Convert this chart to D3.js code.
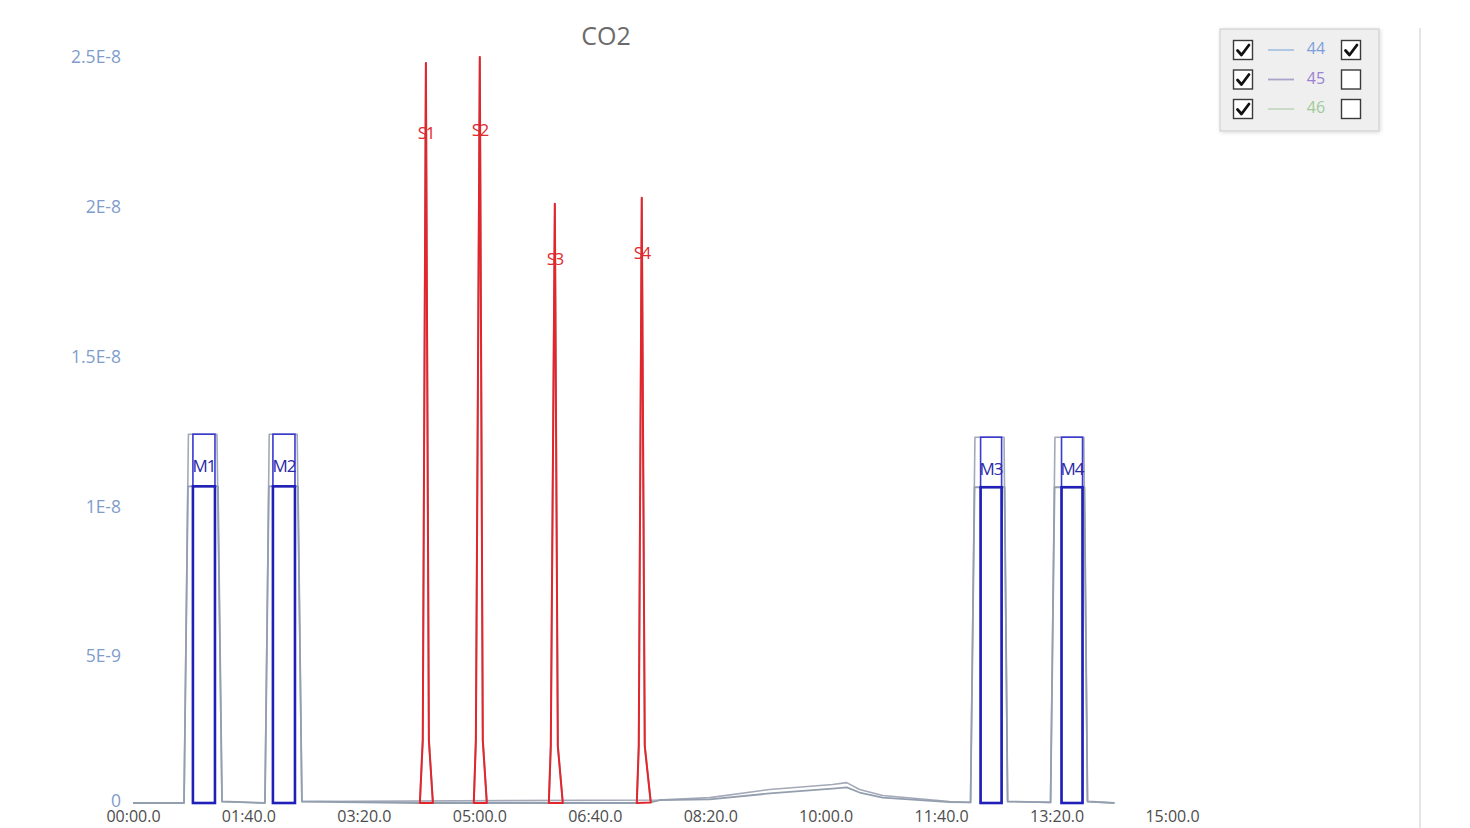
<!DOCTYPE html>
<html>
<head>
<meta charset="utf-8">
<script src="https://cdn.jsdelivr.net/npm/d3@7"></script>
<style>
  html, body { margin: 0; padding: 0; background: #ffffff; }
  svg { display: block; font-family: "Open Sans", "Noto Sans", sans-serif; }
</style>
</head>
<body>
<svg id="chart" width="1470" height="828"></svg>
<script>
// ---------------- DATA ----------------
const chartTitle = "CO2";
const xTickValues = [0, 100, 200, 300, 400, 500, 600, 700, 800, 900];
const xTickLabels = ["00:00.0","01:40.0","03:20.0","05:00.0","06:40.0","08:20.0","10:00.0","11:40.0","13:20.0","15:00.0"];
const yTickValues = [0, 5e-9, 1e-8, 1.5e-8, 2e-8, 2.5e-8];
const yTickLabels = ["0","5E-9","1E-8","1.5E-8","2E-8","2.5E-8"];

// mass 44 trace (seconds, amps)
const times44 = [0, 44.2, 47.6, 73.6, 77.1, 114.3, 117.7, 142.9, 146.3,
  248.5, 251.0, 253.7, 256.3, 259.8,
  295.2, 297.0, 300.4, 303.0, 306.5,
  360.2, 361.9, 365.4, 368.0, 372.3,
  436.4, 438.1, 440.7, 443.3, 448.5,
  456.3, 499.6, 551.5, 606.0, 618.2, 629.4, 649.4, 707.4, 725.5,
  729.0, 755.0, 757.6, 794.8, 798.3, 824.2, 826.8, 850.2];
const values44 = [0.1e-9, 0.1e-9, 10.67e-9, 10.67e-9, 0.15e-9, 0.1e-9, 10.67e-9, 10.67e-9, 0.15e-9,
  0.1e-9, 2.2e-9, 24.8e-9, 2.2e-9, 0.1e-9,
  0.1e-9, 2.2e-9, 25.0e-9, 2.2e-9, 0.1e-9,
  0.1e-9, 2.0e-9, 20.1e-9, 2.0e-9, 0.1e-9,
  0.1e-9, 2.0e-9, 20.3e-9, 2.0e-9, 0.12e-9,
  0.2e-9, 0.22e-9, 0.42e-9, 0.58e-9, 0.62e-9, 0.45e-9, 0.28e-9, 0.13e-9, 0.12e-9,
  10.64e-9, 10.64e-9, 0.15e-9, 0.12e-9, 10.64e-9, 10.64e-9, 0.15e-9, 0.1e-9];

// mass 45 trace
const times45 = [0, 44.2, 48.0, 72.7, 77.1, 114.3, 118.0, 142.2, 146.3,
  456.3, 499.6, 551.5, 606.0, 618.2, 629.4, 649.4, 707.4, 725.5,
  729.3, 754.5, 757.6, 794.8, 798.6, 823.6, 826.8, 850.2];
const values45 = [0.1e-9, 0.1e-9, 12.41e-9, 12.41e-9, 0.15e-9, 0.1e-9, 12.41e-9, 12.41e-9, 0.15e-9,
  0.2e-9, 0.28e-9, 0.55e-9, 0.72e-9, 0.78e-9, 0.55e-9, 0.35e-9, 0.15e-9, 0.12e-9,
  12.31e-9, 12.31e-9, 0.15e-9, 0.12e-9, 12.31e-9, 12.31e-9, 0.15e-9, 0.1e-9];

// sample peaks (integration windows on mass 44)
const sNames = ["S1", "S2", "S3", "S4"];
const sStart = [248.5, 295.2, 360.2, 436.4];
const sEnd = [259.8, 306.5, 372.3, 448.5];
const sLabelValue = [22.4e-9, 22.5e-9, 18.2e-9, 18.4e-9];

// monitoring gas windows
const mNames = ["M1", "M2", "M3", "M4"];
const mStart = [51.9, 121.2, 734.2, 804.3];
const mEnd = [71.0, 140.3, 752.4, 822.5];
const mLow = [10.67e-9, 10.67e-9, 10.64e-9, 10.64e-9];
const mHigh = [12.41e-9, 12.41e-9, 12.31e-9, 12.31e-9];
const mLabelValue = [11.3e-9, 11.3e-9, 11.2e-9, 11.2e-9];

// legend
const legendMasses = ["44", "45", "46"];
const legendLeftChecked = [true, true, true];
const legendRightChecked = [true, false, false];

// ---------------- DRAW ----------------
const svg = d3.select("#chart");
const x = d3.scaleLinear().domain([0, 900]).range([133, 1172]);
const y = d3.scaleLinear().domain([0, 2.5e-8]).range([806, 57]);

// right panel divider
svg.append("line").attr("x1", 1420).attr("x2", 1420).attr("y1", 28).attr("y2", 828)
  .attr("stroke", "#e6e6e6").attr("stroke-width", 2);

// title
svg.append("text").attr("x", 606).attr("y", 38).attr("text-anchor", "middle")
  .attr("dominant-baseline", "middle").attr("font-size", 25).attr("fill", "#6b6b6b").text(chartTitle);

// y axis labels
const yAxis = d3.axisLeft(y).tickValues(yTickValues).tickFormat((d, i) => yTickLabels[i]).tickSize(0).tickPadding(0);
const gy = svg.append("g").attr("transform", "translate(121,0)").call(yAxis);
gy.select(".domain").remove();
gy.selectAll("text").attr("font-size", 17.5).attr("fill", "#7f9dcb").attr("font-family", "'Open Sans', sans-serif");
gy.selectAll(".tick").filter(d => d === 0).select("text").attr("dy", "0.05em");

// x axis labels
const xAxis = d3.axisBottom(x).tickValues(xTickValues).tickFormat((d, i) => xTickLabels[i]).tickSize(0).tickPadding(0);
const gx = svg.append("g").attr("transform", "translate(0,811)").call(xAxis);
gx.select(".domain").remove();
gx.selectAll("text").attr("font-size", 16).attr("fill", "#4d4d4d").attr("font-family", "'Open Sans', sans-serif");

const line = d3.line().x(d => x(d[0])).y(d => y(d[1]));
const data44 = times44.map((t, i) => [t, values44[i]]);
const data45 = times45.map((t, i) => [t, values45[i]]);

svg.append("path").datum(data45).attr("d", line).attr("fill", "none")
  .attr("stroke", "#a3a9b8").attr("stroke-width", 1.6).attr("stroke-linejoin", "round");
svg.append("path").datum(data44).attr("d", line).attr("fill", "none")
  .attr("stroke", "#939fae").attr("stroke-width", 1.8).attr("stroke-linejoin", "round");

// red sample peaks (closed with baseline)
sNames.forEach((name, i) => {
  const pts = data44.filter(d => d[0] >= sStart[i] && d[0] <= sEnd[i]);
  svg.append("path").datum(pts).attr("d", line(pts) + "Z")
    .attr("fill", "none").attr("stroke", "#e3262b").attr("stroke-width", 2).attr("stroke-linejoin", "round");
  const apex = pts.reduce((a, b) => (b[1] > a[1] ? b : a));
  svg.append("text").attr("x", x(apex[0])).attr("y", y(sLabelValue[i]))
    .attr("text-anchor", "middle").attr("dominant-baseline", "middle")
    .attr("font-size", 17).attr("fill", "#e02a2f").attr("letter-spacing", -1.5).text(name);
});

// blue monitoring boxes
mNames.forEach((name, i) => {
  svg.append("rect").attr("x", x(mStart[i])).attr("y", y(mHigh[i]))
    .attr("width", x(mEnd[i]) - x(mStart[i])).attr("height", y(0.1e-9) - y(mHigh[i]))
    .attr("fill", "none").attr("stroke", "#3a3ad0").attr("stroke-width", 1.6);
  svg.append("rect").attr("x", x(mStart[i])).attr("y", y(mLow[i]))
    .attr("width", x(mEnd[i]) - x(mStart[i])).attr("height", y(0.1e-9) - y(mLow[i]))
    .attr("fill", "none").attr("stroke", "#2020b8").attr("stroke-width", 2.6);
  svg.append("text").attr("x", (x(mStart[i]) + x(mEnd[i])) / 2).attr("y", y(mLabelValue[i]))
    .attr("text-anchor", "middle").attr("dominant-baseline", "middle")
    .attr("font-size", 17).attr("fill", "#2a2aa8").attr("letter-spacing", -1).text(name);
});

// legend
const defs = svg.append("defs");
const f = defs.append("filter").attr("id", "sh").attr("x", "-10%").attr("y", "-10%").attr("width", "130%").attr("height", "130%");
f.append("feDropShadow").attr("dx", 1).attr("dy", 1).attr("stdDeviation", 2).attr("flood-color", "#000").attr("flood-opacity", 0.15);
const lg = svg.append("g");
lg.append("rect").attr("x", 1220).attr("y", 29).attr("width", 159).attr("height", 102)
  .attr("fill", "#efefef").attr("stroke", "#c9c9c9").attr("stroke-width", 1).attr("filter", "url(#sh)");
const legendLine = ["#a9c3e3", "#aaa3cc", "#c7d6c4"];
const legendText = ["#7c9fdb", "#9c82d2", "#9fcb96"];
const rowY = d3.scaleOrdinal().domain(legendMasses).range([50, 79.5, 109]);
function checkbox(cx, cy, checked) {
  lg.append("rect").attr("x", cx - 9.5).attr("y", cy - 9.5).attr("width", 19).attr("height", 19)
    .attr("fill", "#ffffff").attr("stroke", "#3a3a3a").attr("stroke-width", 1.4);
  if (checked) {
    lg.append("path").attr("d", `M${cx - 5.5},${cy + 0.5} L${cx - 1.5},${cy + 5} L${cx + 6},${cy - 5}`)
      .attr("fill", "none").attr("stroke", "#111").attr("stroke-width", 2.8).attr("stroke-linecap", "round").attr("stroke-linejoin", "round");
  }
}
legendMasses.forEach((m, i) => {
  const cy = rowY(m);
  checkbox(1243, cy, legendLeftChecked[i]);
  lg.append("line").attr("x1", 1268).attr("x2", 1294).attr("y1", cy).attr("y2", cy)
    .attr("stroke", legendLine[i]).attr("stroke-width", 1.8);
  lg.append("text").attr("x", 1316).attr("y", cy).attr("text-anchor", "middle").attr("dominant-baseline", "middle")
    .attr("font-size", 16).attr("fill", legendText[i]).text(m);
  checkbox(1351, cy, legendRightChecked[i]);
});
</script>
</body>
</html>
